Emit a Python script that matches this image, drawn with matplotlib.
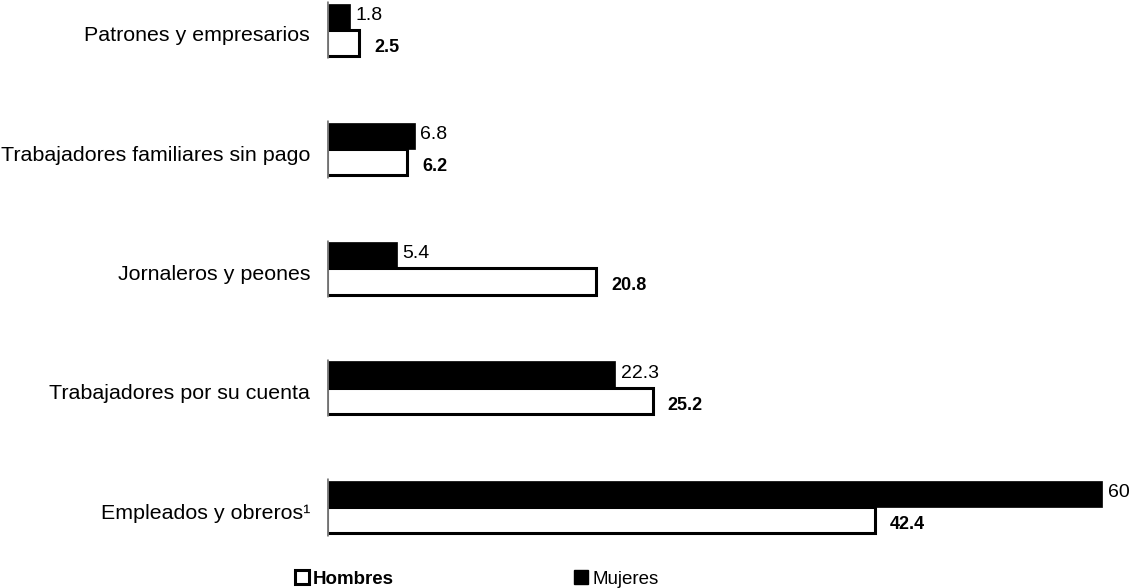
import numpy as np
import matplotlib
matplotlib.use('Agg')
import matplotlib.pyplot as plt
import matplotlib.transforms as mtransforms
from matplotlib.lines import Line2D

plt.rcParams['font.family'] = ['Liberation Sans', 'DejaVu Sans']

# data (percent)
categorias = ['Empleados y obreros\u00b9', 'Trabajadores por su cuenta',
              'Jornaleros y peones', 'Trabajadores familiares sin pago',
              'Patrones y empresarios']
mujeres = [60, 22.3, 5.4, 6.8, 1.8]
hombres = [42.4, 25.2, 20.8, 6.2, 2.5]
etq_mujeres = ['60', '22.3', '5.4', '6.8', '1.8']
etq_hombres = ['42.4', '25.2', '20.8', '6.2', '2.5']

fig = plt.figure(figsize=(11.35, 5.88), dpi=100)
ax = fig.add_axes([0.288, 0.016, 0.706, 0.984])

y = np.arange(len(categorias))
h = 0.22

# white bars (Hombres) below, black bars (Mujeres) above
ax.barh(y - h / 2, hombres, height=h, color='white', edgecolor='black',
        linewidth=2.2, zorder=2)
ax.barh(y + h / 2, mujeres, height=h, color='black', edgecolor='black',
        linewidth=0.5, zorder=3)

for yi, v, t in zip(y, mujeres, etq_mujeres):
    ax.annotate(t, (v, yi + h / 2), xytext=(4, 1), textcoords='offset points',
                va='center', ha='left', fontsize=14)
for yi, v, t in zip(y, hombres, etq_hombres):
    ax.annotate(t, (v, yi - h / 2), xytext=(11, -3), textcoords='offset points',
                va='center', ha='left', fontsize=13, fontweight='bold')

# short gray axis line next to each group
ax.vlines(np.zeros(len(y)), y - h - 0.02, y + h + 0.02, color='#808080',
          linewidth=2, zorder=4)

ax.set_xlim(0, 62)
ax.set_ylim(-0.6, 4.25)
ax.set_yticks(y)
ax.set_yticklabels(categorias, fontsize=15.4)
ax.tick_params(axis='y', length=0, pad=12)
shift = mtransforms.ScaledTranslation(0, -3 / 72, fig.dpi_scale_trans)
for lbl in ax.get_yticklabels():
    lbl.set_transform(lbl.get_transform() + shift)
ax.set_xticks([])
for s in ax.spines.values():
    s.set_visible(False)

handles = [Line2D([], [], marker='s', linestyle='none', markersize=10,
                  markerfacecolor='white', markeredgecolor='black', markeredgewidth=2.2),
           Line2D([], [], marker='s', linestyle='none', markersize=10,
                  markerfacecolor='black', markeredgecolor='black')]
leg = fig.legend(handles, ['Hombres', 'Mujeres'], loc='center left',
                 bbox_to_anchor=(294 / 1135, 1 - 579 / 588), ncol=2, frameon=False,
                 fontsize=13.5, handlelength=0.8, handletextpad=0.2,
                 columnspacing=9.6, borderpad=0, borderaxespad=0)
leg.get_texts()[0].set_fontweight('bold')

fig.savefig('out.png', dpi=100)
